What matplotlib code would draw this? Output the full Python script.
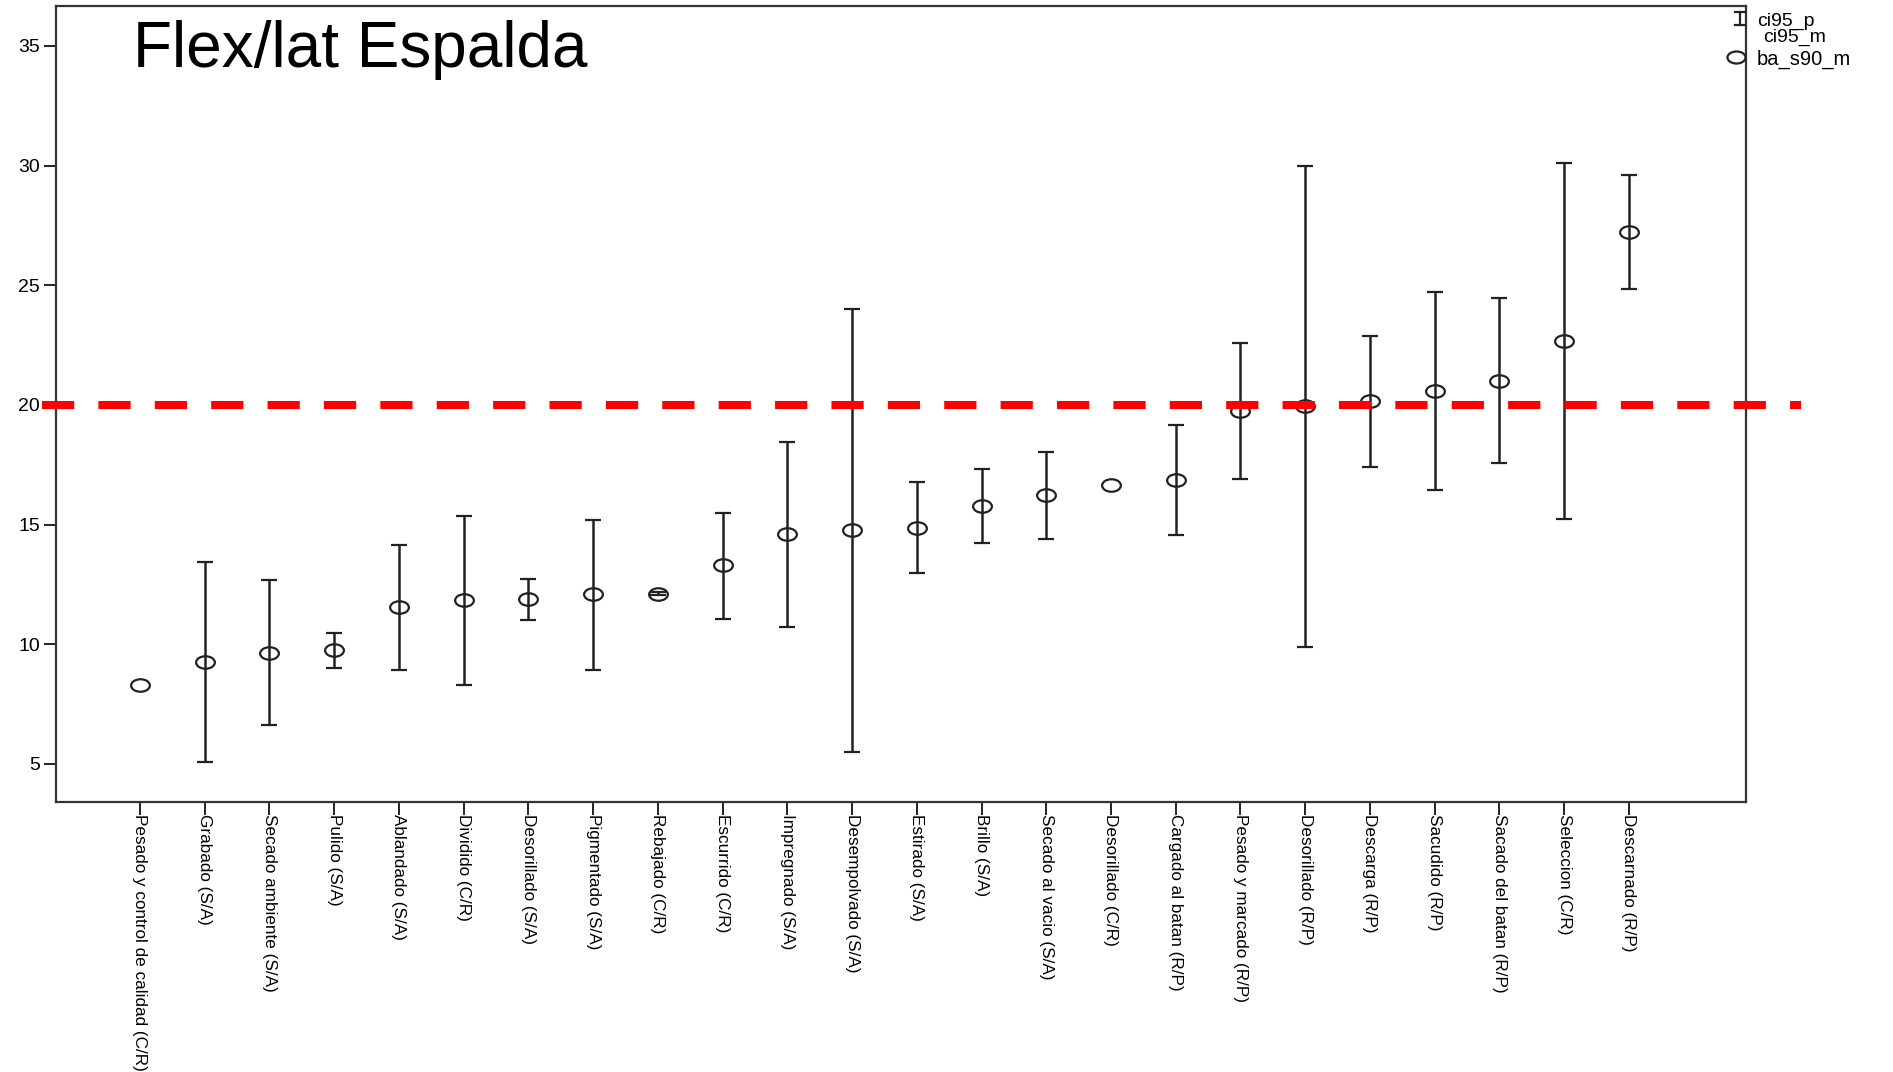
import matplotlib
matplotlib.use('Agg')
import matplotlib.pyplot as plt
import numpy as np
from matplotlib.path import Path
from matplotlib.transforms import Affine2D
from matplotlib.lines import Line2D

categories = ['Pesado y control de calidad (C/R)', 'Grabado (S/A)', 'Secado ambiente (S/A)',
              'Pulido (S/A)', 'Ablandado (S/A)', 'Dividido (C/R)', 'Desorillado (S/A)',
              'Pigmentado (S/A)', 'Rebajado (C/R)', 'Escurrido (C/R)', 'Impregnado (S/A)',
              'Desempolvado (S/A)', 'Estirado (S/A)', 'Brillo (S/A)', 'Secado al vacio (S/A)',
              'Desorillado (C/R)', 'Cargado al batan (R/P)', 'Pesado y marcado (R/P)',
              'Desorillado (R/P)', 'Descarga (R/P)', 'Sacudido (R/P)', 'Sacado del batan (R/P)',
              'Seleccion (C/R)', 'Descarnado (R/P)']
# ba_s90_m
means = [8.30, 9.25, 9.65, 9.75, 11.54, 11.84, 11.89, 12.09, 12.11, 13.30, 14.59, 14.76,
         14.86, 15.78, 16.22, 16.65, 16.86, 19.73, 19.96, 20.17, 20.60, 21.01, 22.67, 27.23]
# ci95_m (lower) and ci95_p (upper), nan where there is no interval
ci_low = [np.nan, 5.09, 6.61, 9.02, 8.94, 8.31, 11.01, 8.94, 12.05, 11.07, 10.73, 5.50,
          12.97, 14.22, 14.39, np.nan, 14.55, 16.89, 9.90, 17.42, 16.45, 17.59, 15.22, 24.83]
ci_high = [np.nan, 13.42, 12.67, 10.46, 14.16, 15.37, 12.74, 15.20, 12.17, 15.50, 18.45, 24.02,
           16.77, 17.32, 18.05, np.nan, 19.17, 22.59, 30.00, 22.89, 24.72, 24.46, 30.12, 29.60]
threshold = 20
yticks = [5, 10, 15, 20, 25, 30, 35]

plt.rcParams['font.family'] = ['Liberation Sans', 'DejaVu Sans']

W, H = 1893, 1072
fig = plt.figure(figsize=(W / 100, H / 100), dpi=100)
ax = fig.add_axes([55.5 / W, 1 - 802 / H, (1746 - 55.5) / W, (802 - 6) / H])

x = np.arange(1, len(categories) + 1)
m = np.array(means)
lo = np.array(ci_low)
hi = np.array(ci_high)
has = ~np.isnan(lo)

# wide ellipse marker, like the stretched SPSS circles
ell = Path.unit_circle().transformed(Affine2D().scale(1.5, 1.0))

ax.errorbar(x[has], m[has], yerr=[m[has] - lo[has], hi[has] - m[has]], fmt='none',
            ecolor='#222222', elinewidth=1.8, capsize=6, capthick=1.6, zorder=2)
ax.plot(x, m, linestyle='none', marker=ell, markersize=13.5, markerfacecolor='none',
        markeredgecolor='#222222', markeredgewidth=1.6, zorder=3)

# red reference line, runs a bit past both spines
ax.plot([-0.008, 1.0325], [threshold, threshold], transform=ax.get_yaxis_transform(),
        color='#ff0000', linewidth=5.8, dashes=(4.0, 3.0), clip_on=False, zorder=4,
        solid_capstyle='butt', dash_capstyle='butt')

ax.set_xlim(-0.305, 25.81)
ax.set_ylim(3.41, 36.67)
ax.set_yticks(yticks)
ax.set_xticks(x)
ax.set_xticklabels(categories, rotation=270, ha='center', va='top', fontsize=12.3)
for lab in ax.get_yticklabels():
    lab.set_fontsize(14)
ax.tick_params(axis='both', direction='out', length=9, width=1.4, color='#222222')
ax.tick_params(axis='y', pad=2)
ax.tick_params(axis='x', pad=0)
for s in ax.spines.values():
    s.set_linewidth(1.6)
    s.set_color('#333333')

fig.text(133 / W, 1 - 67 / H, 'Flex/lat Espalda', fontsize=46, va='baseline', ha='left')

# legend in the top right corner
ix, iy0, iy1 = 1740 / W, 1 - 25 / H, 1 - 12 / H
fig.add_artist(Line2D([ix, ix], [iy0, iy1], color='#222222', lw=1.6))
for yy in (iy0, iy1):
    fig.add_artist(Line2D([ix - 5 / W, ix + 5 / W], [yy, yy], color='#222222', lw=1.6))
fig.add_artist(Line2D([1736 / W], [1 - 57 / H], linestyle='none', marker=ell, markersize=13,
                      markerfacecolor='none', markeredgecolor='#222222', markeredgewidth=1.6))
fig.text(1757 / W, 1 - 26 / H, 'ci95_p', fontsize=14, va='baseline')
fig.text(1763 / W, 1 - 42 / H, 'ci95_m', fontsize=14, va='baseline')
fig.text(1757 / W, 1 - 64.5 / H, 'ba_s90_m', fontsize=14.5, va='baseline')

fig.savefig('out.png', dpi=100)
